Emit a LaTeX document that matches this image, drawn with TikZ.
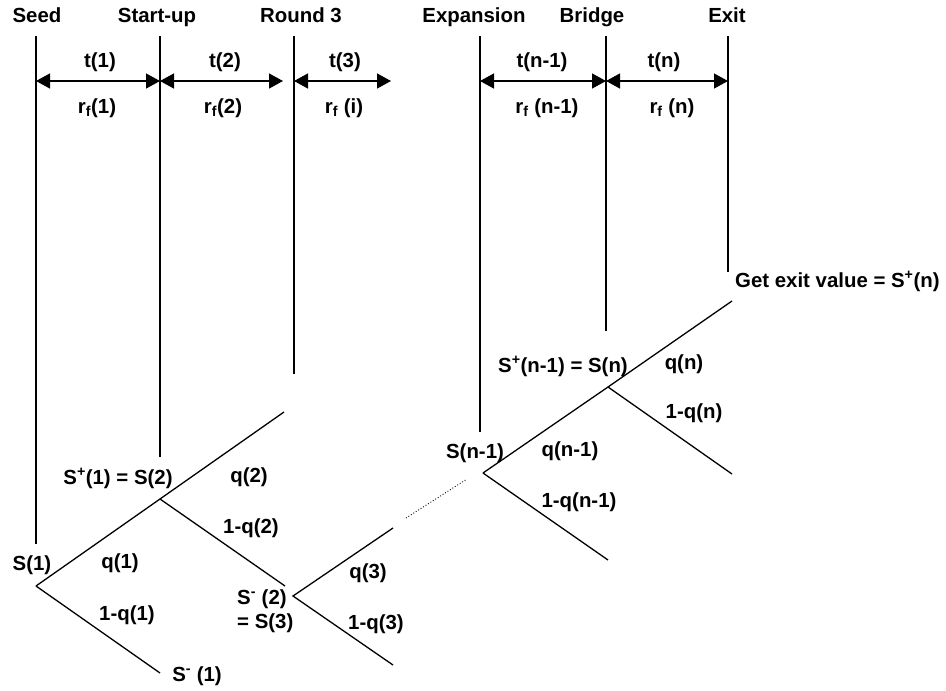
\documentclass[tikz,border=0pt]{standalone}
\usepackage{fontspec}
\setmainfont{Liberation Sans}
\usetikzlibrary{arrows.meta}
\begin{document}
\begin{tikzpicture}[x=1pt,y=-1pt,
  lbl/.style={font=\fontsize{20.4}{24}\selectfont\bfseries, inner sep=0pt, anchor=base},
  ln/.style={line width=1.3pt},
  tip/.style={Triangle[length=14pt,width=15pt]},
  dbl/.style={line width=1.3pt, {Triangle[length=14pt,width=15pt]}-{Triangle[length=14pt,width=15pt]}},
  dots/.style={line width=0.9pt, dotted}]
\useasboundingbox (0,0) rectangle (946,691);

% phase headers
\node[lbl] (hseed) at (37,22) {Seed};
\node[lbl] (hstart) at (157,22) {Start-up};
\node[lbl] (hround) at (301,22) {Round 3};
\node[lbl] (hexp) at (474,22) {Expansion};
\node[lbl] (hbridge) at (592,22) {Bridge};
\node[lbl] (hexit) at (727,22) {Exit};

% vertical time lines
\coordinate (vseedT) at (36,36);   \coordinate (vseedB) at (36,544);
\coordinate (vstartT) at (160,36); \coordinate (vstartB) at (160,457);
\coordinate (vroundT) at (294,36); \coordinate (vroundB) at (294,374);
\coordinate (vexpT) at (480,36);   \coordinate (vexpB) at (480,432);
\coordinate (vbrT) at (606,36);    \coordinate (vbrB) at (606,331);
\coordinate (vexT) at (728,36);    \coordinate (vexB) at (728,272);
\draw[ln] (vseedT) -- (vseedB);
\draw[ln] (vstartT) -- (vstartB);
\draw[ln] (vroundT) -- (vroundB);
\draw[ln] (vexpT) -- (vexpB);
\draw[ln] (vbrT) -- (vbrB);
\draw[ln] (vexT) -- (vexB);

% period arrows
\coordinate (ar0) at (36,81);
\coordinate (ar1) at (160,81);
\coordinate (ar2) at (283,81);
\coordinate (ar3) at (294,81);
\coordinate (ar4) at (391,81);
\coordinate (ar5) at (480,81);
\coordinate (ar6) at (606,81);
\coordinate (ar7) at (728,81);
\draw[dbl] (ar0) -- (ar1);
\draw[dbl] (ar1) -- (ar2);
\draw[dbl] (ar3) -- (ar4);
\draw[dbl] (ar5) -- (ar6);
\draw[dbl] (ar6) -- (ar7);

\node[lbl] (t1) at (100,67) {t(1)};
\node[lbl] (t2) at (225,67) {t(2)};
\node[lbl] (t3) at (345,67) {t(3)};
\node[lbl] (tn1) at (542,67) {t(n-1)};
\node[lbl] (tn) at (664,67) {t(n)};

\node[lbl] (r1) at (97,113) {r\textsubscript{f}(1)};
\node[lbl] (r2) at (223,113) {r\textsubscript{f}(2)};
\node[lbl] (ri) at (344,113) {r\textsubscript{f} (i)};
\node[lbl] (rn1) at (547,113) {r\textsubscript{f} (n-1)};
\node[lbl] (rn) at (672,113) {r\textsubscript{f} (n)};

% tree, first part
\coordinate (a1) at (36,586);
\coordinate (b1) at (160,499);
\coordinate (c1) at (284,412);
\coordinate (d1) at (160,673);
\coordinate (e1) at (285,586);
\draw[ln] (a1) -- (b1) -- (c1);
\draw[ln] (a1) -- (d1);
\draw[ln] (b1) -- (e1);

\coordinate (a2) at (293,596);
\coordinate (b2) at (393,528);
\coordinate (c2) at (393,665);
\draw[ln] (b2) -- (a2) -- (c2);

\coordinate (p1) at (406,518);
\coordinate (p2) at (467,479);
\draw[dots] (p1) -- (p2);

% tree, last part
\coordinate (a3) at (483,473);
\coordinate (b3) at (608,387);
\coordinate (c3) at (732,301);
\coordinate (d3) at (608,560);
\coordinate (e3) at (732,474);
\draw[ln] (a3) -- (b3) -- (c3);
\draw[ln] (a3) -- (d3);
\draw[ln] (b3) -- (e3);

% tree labels
\node[lbl] (ls1) at (32,570.5) {S(1)};
\node[lbl] (ls2) at (118,484.5) {S\textsuperscript{+}(1) = S(2)};
\node[lbl] (lq2) at (249,482.5) {q(2)};
\node[lbl] (l1q2) at (251,533.5) {1-q(2)};
\node[lbl] (lq1) at (120,568.5) {q(1)};
\node[lbl] (l1q1) at (127,620.5) {1-q(1)};
\node[lbl, anchor=base west] (lsm2) at (237,604.5) {S\textsuperscript{-} (2)};
\node[lbl, anchor=base west] (ls3) at (237,628.5) {= S(3)};
\node[lbl] (lq3) at (368,578.5) {q(3)};
\node[lbl] (l1q3) at (376,629.5) {1-q(3)};
\node[lbl] (lsm1) at (197,681.5) {S\textsuperscript{-} (1)};

\node[lbl] (lsn1) at (475,458.5) {S(n-1)};
\node[lbl] (lqn1) at (570,456.5) {q(n-1)};
\node[lbl] (l1qn1) at (579,507.5) {1-q(n-1)};
\node[lbl] (lsn) at (563,372.5) {S\textsuperscript{+}(n-1) = S(n)};
\node[lbl] (lqn) at (684,369.5) {q(n)};
\node[lbl] (l1qn) at (694,418.5) {1-q(n)};
\node[lbl, anchor=base west] (lexit) at (735,287.5) {Get exit value = S\textsuperscript{+}(n)};
\end{tikzpicture}
\end{document}
